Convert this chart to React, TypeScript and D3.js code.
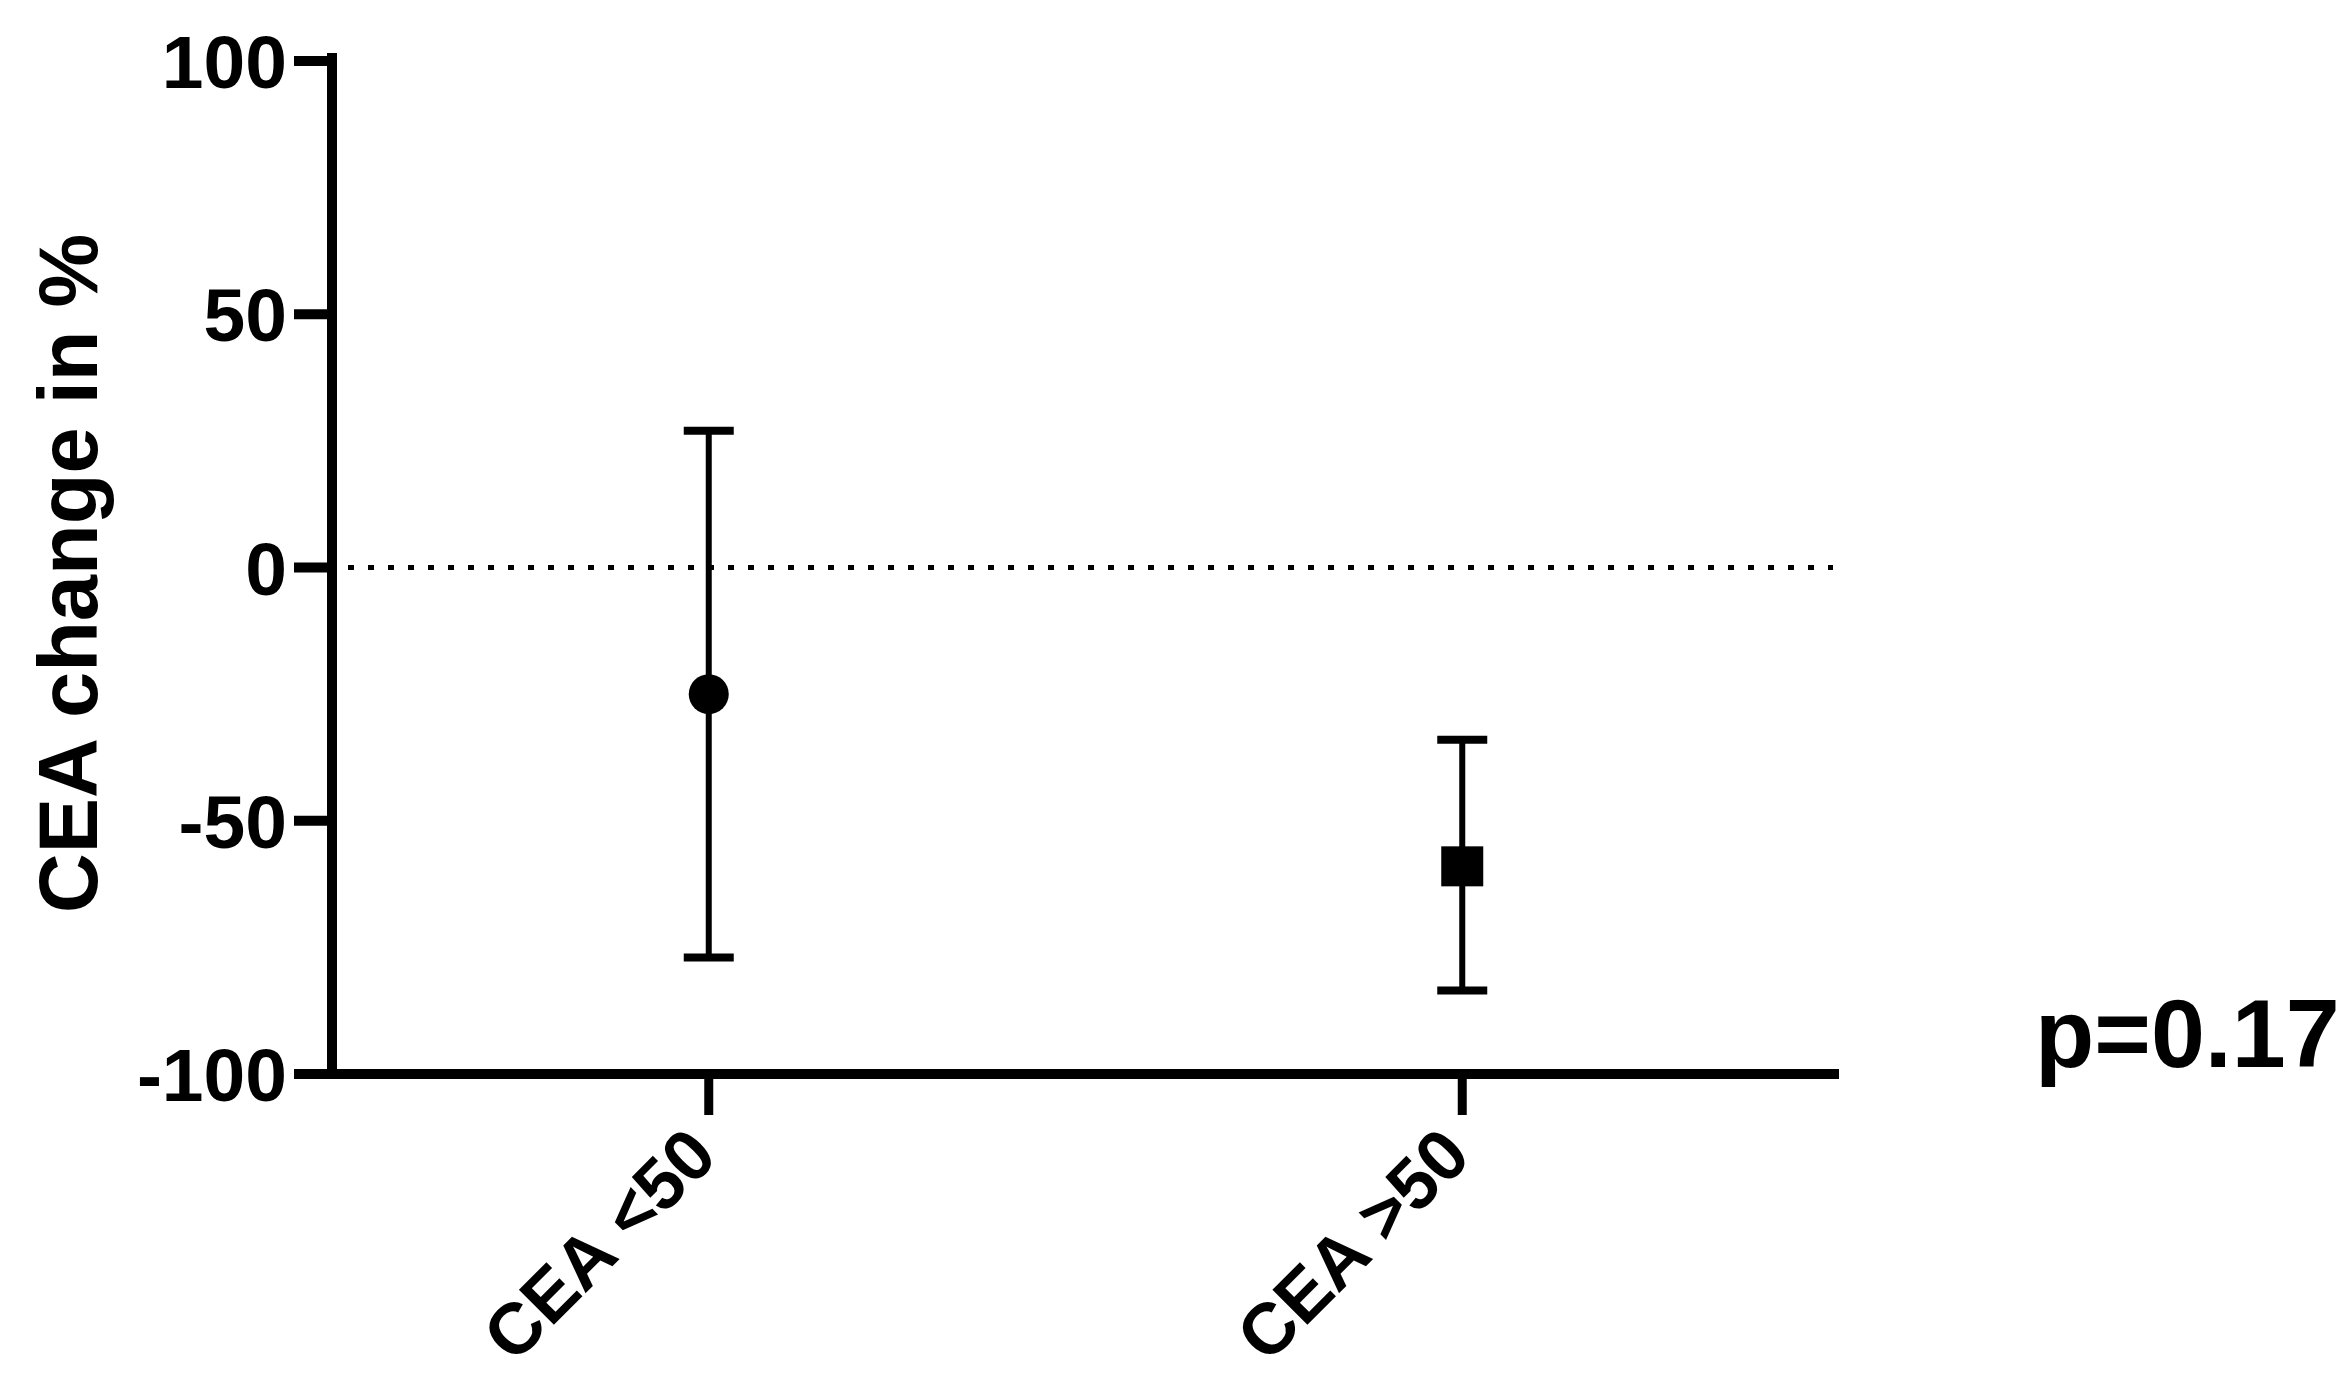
import * as d3 from "d3";

// group labels and summary values (CEA change in %)
const categories = ["CEA <50", "CEA >50"];
const means = [-25, -59];
const upperErr = [27, -34];
const lowerErr = [-77, -83.5];
const markerShapes = ["circle", "square"];
const yTicks = [-100, -50, 0, 50, 100];
const yLabel = "CEA change in %";
const pValueText = "p=0.17";

const WIDTH = 2351;
const HEIGHT = 1377;
const AXIS_LEFT = 332;
const AXIS_RIGHT = 1839;
const FONT = "'Liberation Sans', Arial, Helvetica, sans-serif";

export default function App() {
  const y = d3.scaleLinear().domain([-100, 100]).range([1074, 61]);
  const x = d3.scalePoint<string>().domain(categories).range([AXIS_LEFT, AXIS_RIGHT]).padding(0.5);

  const axisY = y(-100);
  const tickLen = 38;

  return (
    <svg
      width={WIDTH}
      height={HEIGHT}
      viewBox={`0 0 ${WIDTH} ${HEIGHT}`}
      style={{ position: "fixed", left: 0, top: 0, background: "#fff" }}
    >
      <rect width={WIDTH} height={HEIGHT} fill="#fff" />

      {/* zero reference line */}
      <line
        x1={AXIS_LEFT + 16}
        x2={AXIS_RIGHT - 6}
        y1={y(0)}
        y2={y(0)}
        stroke="#000"
        strokeWidth={5}
        strokeDasharray="6,14"
      />

      {/* y axis */}
      <line x1={AXIS_LEFT} x2={AXIS_LEFT} y1={y(100) - 8} y2={axisY} stroke="#000" strokeWidth={10} />
      {yTicks.map((t) => (
        <g key={t}>
          <line x1={AXIS_LEFT - tickLen} x2={AXIS_LEFT} y1={y(t)} y2={y(t)} stroke="#000" strokeWidth={10} />
          <text
            x={AXIS_LEFT - tickLen - 7}
            y={y(t)}
            dy="0.36em"
            textAnchor="end"
            fontFamily={FONT}
            fontWeight="bold"
            fontSize={75}
            fill="#000"
          >
            {t}
          </text>
        </g>
      ))}
      <text
        transform={`translate(97, ${(y(100) + y(-100)) / 2 + 6}) rotate(-90)`}
        textAnchor="middle"
        fontFamily={FONT}
        fontWeight="bold"
        fontSize={83}
        fill="#000"
      >
        {yLabel}
      </text>

      {/* x axis */}
      <line x1={AXIS_LEFT - 5} x2={AXIS_RIGHT} y1={axisY} y2={axisY} stroke="#000" strokeWidth={10} />
      {categories.map((c) => (
        <g key={c}>
          <line x1={x(c)} x2={x(c)} y1={axisY} y2={axisY + 41} stroke="#000" strokeWidth={9} />
          <text
            transform={`translate(${(x(c) as number) + 11}, ${axisY + 85}) rotate(-45)`}
            textAnchor="end"
            fontFamily={FONT}
            fontWeight="bold"
            fontSize={72}
            fill="#000"
          >
            {c}
          </text>
        </g>
      ))}

      {/* error bars and group means */}
      {categories.map((c, i) => {
        const cx = x(c) as number;
        const capHalf = 25;
        return (
          <g key={c}>
            <line x1={cx} x2={cx} y1={y(upperErr[i])} y2={y(lowerErr[i])} stroke="#000" strokeWidth={6} />
            <line x1={cx - capHalf} x2={cx + capHalf} y1={y(upperErr[i])} y2={y(upperErr[i])} stroke="#000" strokeWidth={8} />
            <line x1={cx - capHalf} x2={cx + capHalf} y1={y(lowerErr[i])} y2={y(lowerErr[i])} stroke="#000" strokeWidth={8} />
            {markerShapes[i] === "circle" ? (
              <circle cx={cx} cy={y(means[i])} r={20} fill="#000" />
            ) : (
              <rect x={cx - 21} y={y(means[i]) - 20} width={42} height={40} fill="#000" />
            )}
          </g>
        );
      })}

      <text x={2035} y={1067} fontFamily={FONT} fontWeight="bold" fontSize={97} fill="#000">
        {pValueText}
      </text>
    </svg>
  );
}
